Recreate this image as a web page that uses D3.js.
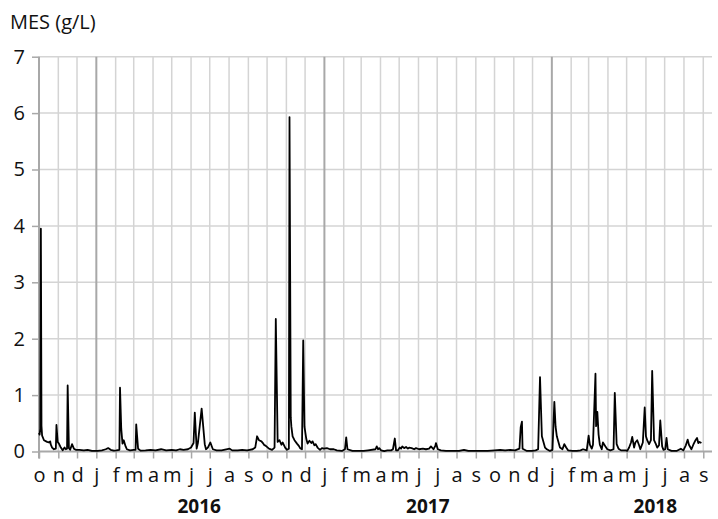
<!DOCTYPE html>
<html>
<head>
<meta charset="utf-8">
<script src="https://cdn.jsdelivr.net/npm/d3@7"></script>
<style>
  body { margin: 0; background: #fff; }
  text { font-family: "Open Sans", "Noto Sans", sans-serif; fill: #111; }
</style>
</head>
<body>
<svg class="chart" width="718" height="519"></svg>
<script>
const dates = [
  "2015-10-01","2015-10-02","2015-10-03","2015-10-04","2015-10-05","2015-10-06","2015-10-09","2015-10-14",
  "2015-10-17","2015-10-19","2015-10-20","2015-10-22","2015-10-25","2015-10-28","2015-10-29","2015-10-31",
  "2015-11-02","2015-11-05","2015-11-08","2015-11-11","2015-11-13","2015-11-15","2015-11-16","2015-11-18",
  "2015-11-20","2015-11-23","2015-11-26","2015-11-29","2015-12-05","2015-12-12","2015-12-18","2015-12-25",
  "2016-01-03","2016-01-10","2016-01-16","2016-01-20","2016-01-24","2016-01-29","2016-02-02","2016-02-07",
  "2016-02-08","2016-02-10","2016-02-12","2016-02-14","2016-02-17","2016-02-19","2016-02-24","2016-03-01",
  "2016-03-04","2016-03-05","2016-03-08","2016-03-12","2016-03-20","2016-03-28","2016-04-05","2016-04-14",
  "2016-04-22","2016-05-01","2016-05-08","2016-05-14","2016-05-20","2016-05-27","2016-06-01","2016-06-05",
  "2016-06-07","2016-06-10","2016-06-12","2016-06-18","2016-06-23","2016-06-25","2016-06-28","2016-07-02",
  "2016-07-06","2016-07-12","2016-07-20","2016-08-02","2016-08-06","2016-08-15","2016-08-22","2016-08-30",
  "2016-09-08","2016-09-12","2016-09-15","2016-09-18","2016-09-22","2016-09-25","2016-09-26","2016-09-29",
  "2016-10-04","2016-10-09","2016-10-13","2016-10-15","2016-10-18","2016-10-21","2016-10-24","2016-10-26",
  "2016-10-30","2016-11-02","2016-11-05","2016-11-06","2016-11-08","2016-11-09","2016-11-11","2016-11-14",
  "2016-11-18","2016-11-21","2016-11-23","2016-11-26","2016-11-28","2016-11-30","2016-12-03","2016-12-05",
  "2016-12-08","2016-12-11","2016-12-13","2016-12-16","2016-12-18","2016-12-21","2016-12-25","2016-12-28",
  "2016-12-31","2017-01-05","2017-01-10","2017-01-16","2017-01-21","2017-01-29","2017-02-03","2017-02-05",
  "2017-02-07","2017-02-15","2017-02-25","2017-03-05","2017-03-12","2017-03-24","2017-03-26","2017-03-28",
  "2017-03-30","2017-04-02","2017-04-07","2017-04-12","2017-04-18","2017-04-21","2017-04-24","2017-04-26",
  "2017-04-29","2017-05-02","2017-05-04","2017-05-06","2017-05-09","2017-05-12","2017-05-15","2017-05-17",
  "2017-05-21","2017-05-25","2017-05-28","2017-06-02","2017-06-08","2017-06-13","2017-06-18","2017-06-21",
  "2017-06-25","2017-06-28","2017-06-29","2017-07-02","2017-07-07","2017-07-15","2017-07-25","2017-08-05",
  "2017-08-13","2017-08-20","2017-09-01","2017-09-10","2017-09-20","2017-10-01","2017-10-10","2017-10-18",
  "2017-10-26","2017-11-03","2017-11-10","2017-11-12","2017-11-14","2017-11-15","2017-11-22","2017-11-30",
  "2017-12-06","2017-12-10","2017-12-13","2017-12-16","2017-12-18","2017-12-21","2017-12-24","2017-12-29",
  "2018-01-02","2018-01-05","2018-01-07","2018-01-09","2018-01-11","2018-01-14","2018-01-18","2018-01-21",
  "2018-01-24","2018-01-27","2018-02-03","2018-02-10","2018-02-16","2018-02-20","2018-02-26","2018-03-01",
  "2018-03-03","2018-03-06","2018-03-08","2018-03-12","2018-03-13","2018-03-15","2018-03-17","2018-03-19",
  "2018-03-22","2018-03-24","2018-03-28","2018-03-31","2018-04-05","2018-04-10","2018-04-12","2018-04-15",
  "2018-04-18","2018-04-22","2018-04-30","2018-05-02","2018-05-05","2018-05-08","2018-05-10","2018-05-13",
  "2018-05-15","2018-05-18","2018-05-21","2018-05-23","2018-05-27","2018-05-30","2018-06-01","2018-06-03",
  "2018-06-06","2018-06-09","2018-06-11","2018-06-14","2018-06-17","2018-06-19","2018-06-22","2018-06-24",
  "2018-06-27","2018-06-29","2018-07-02","2018-07-04","2018-07-06","2018-07-12","2018-07-20","2018-07-27",
  "2018-07-31","2018-08-04","2018-08-07","2018-08-09","2018-08-13","2018-08-16","2018-08-19","2018-08-22",
  "2018-08-24","2018-08-26","2018-08-29"
];
const mes = [
  0.33,0.30,0.40,3.95,0.45,0.28,0.20,0.17,
  0.16,0.18,0.12,0.07,0.04,0.05,0.47,0.17,
  0.14,0.07,0.02,0.07,0.04,0.05,1.17,0.06,
  0.03,0.13,0.05,0.03,0.03,0.02,0.03,0.01,
  0.01,0.02,0.04,0.06,0.03,0.015,0.02,0.03,
  1.13,0.40,0.14,0.20,0.09,0.04,0.02,0.03,
  0.03,0.48,0.05,0.015,0.02,0.03,0.02,0.04,
  0.02,0.03,0.02,0.04,0.03,0.04,0.07,0.15,
  0.69,0.05,0.15,0.76,0.13,0.04,0.07,0.16,
  0.04,0.02,0.02,0.05,0.02,0.02,0.03,0.02,
  0.04,0.07,0.27,0.20,0.18,0.14,0.12,0.10,
  0.05,0.03,0.07,2.35,0.17,0.20,0.12,0.16,
  0.07,0.03,0.05,5.93,0.60,0.44,0.27,0.20,
  0.14,0.10,0.06,0.04,1.97,0.44,0.22,0.14,
  0.19,0.15,0.18,0.11,0.13,0.07,0.03,0.06,
  0.05,0.06,0.04,0.04,0.02,0.01,0.04,0.25,
  0.04,0.01,0.01,0.01,0.02,0.04,0.09,0.04,
  0.06,0.02,0.005,0.02,0.02,0.04,0.23,0.02,
  0.02,0.07,0.05,0.09,0.06,0.08,0.05,0.07,
  0.06,0.04,0.06,0.04,0.05,0.04,0.05,0.09,
  0.04,0.10,0.15,0.04,0.02,0.01,0.01,0.01,
  0.03,0.01,0.01,0.01,0.01,0.02,0.03,0.02,
  0.03,0.02,0.05,0.43,0.53,0.05,0.01,0.01,
  0.02,0.04,1.32,0.27,0.19,0.07,0.04,0.01,
  0.03,0.88,0.44,0.27,0.19,0.07,0.04,0.13,
  0.07,0.02,0.01,0.01,0.02,0.04,0.02,0.28,
  0.12,0.05,0.12,1.38,0.45,0.70,0.30,0.12,
  0.04,0.16,0.09,0.04,0.02,0.04,1.04,0.13,
  0.05,0.02,0.02,0.01,0.07,0.16,0.26,0.07,
  0.16,0.20,0.11,0.04,0.16,0.78,0.27,0.20,
  0.13,0.20,1.43,0.20,0.13,0.07,0.11,0.55,
  0.09,0.03,0.04,0.24,0.04,0.01,0.01,0.05,
  0.02,0.11,0.21,0.12,0.04,0.12,0.19,0.24,
  0.15,0.17,0.15
];

const monthLetters = ["j","f","m","a","m","j","j","a","s","o","n","d"];
const yTicks = [0, 1, 2, 3, 4, 5, 6, 7];
const years = ["2016", "2017", "2018"];
const yearLabelDates = ["2016-06-14", "2017-06-16", "2018-06-16"];
const yLabel = "MES (g/L)";

const parse = d3.utcParse("%Y-%m-%d");
const data = dates.map((d, i) => ({date: parse(d), v: mes[i]}));

const svg = d3.select(".chart");
const margin = {left: 39, right: 712, top: 56.7, bottom: 451.5};
const font = '"Open Sans", "Noto Sans", sans-serif';

const x = d3.scaleUtc()
  .domain([parse("2015-10-01"), parse("2018-09-15")])
  .range([margin.left, margin.right]);
const y = d3.scaleLinear()
  .domain([0, 7])
  .range([margin.bottom, margin.top]);

const months = d3.utcMonth.range(parse("2015-10-01"), parse("2018-09-02"));

// horizontal grid
svg.append("g").selectAll("line")
  .data(yTicks.filter(t => t > 0))
  .join("line")
  .attr("x1", margin.left).attr("x2", margin.right)
  .attr("y1", d => y(d)).attr("y2", d => y(d))
  .attr("stroke", "#d4d4d4").attr("stroke-width", 1.5);

// vertical grid, darker at year changes
svg.append("g").selectAll("line")
  .data(months.slice(1))
  .join("line")
  .attr("x1", d => x(d)).attr("x2", d => x(d))
  .attr("y1", margin.top).attr("y2", margin.bottom)
  .attr("stroke", d => d.getUTCMonth() === 0 ? "#a8a8a8" : "#d4d4d4")
  .attr("stroke-width", d => d.getUTCMonth() === 0 ? 2 : 1.5);

// y axis
const yAxis = svg.append("g")
  .attr("transform", `translate(${margin.left},0)`)
  .call(d3.axisLeft(y).tickValues(yTicks).tickSize(7).tickPadding(7).tickFormat(d3.format("d")));
yAxis.select(".domain").attr("stroke", "#a8a8a8").attr("stroke-width", 2)
  .attr("d", `M0,${margin.top}V${margin.bottom + 7}`);
yAxis.selectAll(".tick line").attr("stroke", "#a8a8a8").attr("stroke-width", 1.5);
yAxis.selectAll(".tick text").attr("font-size", 20).attr("fill", "#111").attr("font-family", font);

// x axis
const xAxis = svg.append("g")
  .attr("transform", `translate(0,${margin.bottom})`)
  .call(d3.axisBottom(x).tickValues(months).tickSize(7).tickPadding(9)
    .tickFormat(d => monthLetters[d.getUTCMonth()]));
xAxis.select(".domain").attr("stroke", "#a8a8a8").attr("stroke-width", 2)
  .attr("d", `M${margin.left},0H${margin.right}`);
xAxis.selectAll(".tick line").attr("stroke", "#a8a8a8").attr("stroke-width", 1.5);
xAxis.selectAll(".tick text").attr("font-size", 20).attr("fill", "#111").attr("font-family", font);

// year labels
svg.append("g").selectAll("text")
  .data(years)
  .join("text")
  .attr("x", (d, i) => x(parse(yearLabelDates[i])))
  .attr("y", 513)
  .attr("text-anchor", "middle")
  .attr("font-size", 19)
  .attr("font-weight", "bold")
  .text(d => d);

// series
svg.append("path")
  .datum(data)
  .attr("fill", "none")
  .attr("stroke", "#000")
  .attr("stroke-width", 1.8)
  .attr("stroke-linejoin", "round")
  .attr("d", d3.line().x(d => x(d.date)).y(d => y(d.v)));

svg.append("text")
  .attr("x", 10)
  .attr("y", 29)
  .attr("font-size", 20)
  .text(yLabel);
</script>
</body>
</html>
